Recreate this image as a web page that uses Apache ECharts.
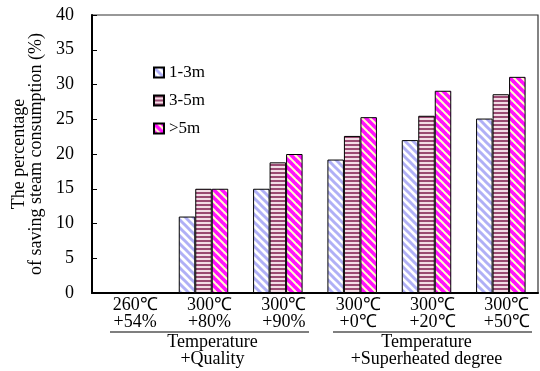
<!DOCTYPE html>
<html>
<head>
<meta charset="utf-8">
<script src="https://cdn.jsdelivr.net/npm/echarts@6/dist/echarts.min.js"></script>
<style>
html,body{margin:0;padding:0;background:#fff;}
#main{width:540px;height:371px;}
</style>
</head>
<body>
<div id="main"></div>
<script>
var categories = ['260\u2103\n+54%', '300\u2103\n+80%', '300\u2103\n+90%', '300\u2103\n+0\u2103', '300\u2103\n+20\u2103', '300\u2103\n+50\u2103'];
var seriesNames = ['1-3m', '3-5m', '>5m'];
var values13 = [0, 11, 15, 19.2, 22, 25.1];
var values35 = [0, 15, 18.8, 22.6, 25.5, 28.6];
var values5 = [0, 15, 20, 25.3, 29.1, 31.1];
var yTicks = [0, 5, 10, 15, 20, 25, 30, 35, 40];
var groupLabels = ['Temperature\n+Quality', 'Temperature\n+Superheated degree'];
var groupStart = [0, 3];
var groupEnd = [2, 5];

var FONT = '"Liberation Serif", "Times New Roman", serif';

function makePattern(kind) {
  var s = 8;
  var c = document.createElement('canvas');
  c.width = s; c.height = s;
  var g = c.getContext('2d');
  if (kind === 'blue') {
    g.fillStyle = '#ffffff'; g.fillRect(0, 0, s, s);
    g.strokeStyle = '#b0b0f6'; g.lineWidth = 3;
    for (var k = -1; k <= 1; k++) { g.beginPath(); g.moveTo(k * s - 2, -2); g.lineTo(k * s + s + 2, s + 2); g.stroke(); }
  } else if (kind === 'maroon') {
    c.height = 4; c.width = 4;
    g = c.getContext('2d');
    g.fillStyle = '#f3dde6'; g.fillRect(0, 0, 4, 4);
    g.fillStyle = '#9a4a72'; g.fillRect(0, 0, 4, 2);
  } else {
    g.fillStyle = '#ffffc8'; g.fillRect(0, 0, s, s);
    g.strokeStyle = '#ff10ff'; g.lineWidth = 3.6;
    for (var k2 = -1; k2 <= 1; k2++) { g.beginPath(); g.moveTo(k2 * s - 2, -2); g.lineTo(k2 * s + s + 2, s + 2); g.stroke(); }
  }
  return { image: c, repeat: 'repeat' };
}

var patterns = [makePattern('blue'), makePattern('maroon'), makePattern('magenta')];
var allValues = [values13, values35, values5];

var chart = echarts.init(document.getElementById('main'), null, { renderer: 'canvas' });

var series = seriesNames.map(function (n, i) {
  return {
    name: n,
    type: 'bar',
    data: allValues[i],
    barWidth: 16.5,
    barGap: '0%',
    itemStyle: { color: patterns[i], borderColor: '#000', borderWidth: 1 },
    emphasis: { disabled: true },
    animation: false
  };
});

chart.setOption({
  animation: false,
  grid: { left: 92, right: 2, top: 15, bottom: 78, show: true, borderColor: '#333', borderWidth: 1.2, backgroundColor: 'transparent' },
  legend: {
    orient: 'vertical', left: 148, top: 59, itemWidth: 10, itemHeight: 10, itemGap: 11,
    icon: 'rect',
    textStyle: { fontFamily: FONT, fontSize: 17, color: '#000' },
    data: seriesNames
  },
  xAxis: {
    type: 'category',
    data: categories,
    axisLine: { lineStyle: { color: '#000', width: 2 } },
    axisTick: { inside: true, length: 5, lineStyle: { color: '#000', width: 1 } },
    axisLabel: { fontFamily: FONT, fontSize: 18, color: '#000', margin: 4, lineHeight: 17, padding: [0, 0, 0, 12] }
  },
  yAxis: {
    type: 'value', min: 0, max: 40, interval: 5,
    name: 'The percentage\nof saving steam consumption (%)',
    nameLocation: 'middle', nameGap: 46,
    nameTextStyle: { fontFamily: FONT, fontSize: 18, color: '#000', lineHeight: 17 },
    axisLine: { show: true, lineStyle: { color: '#000', width: 2 } },
    axisTick: { show: true, inside: true, length: 5, lineStyle: { color: '#000' } },
    splitLine: { show: false },
    axisLabel: { fontFamily: FONT, fontSize: 18, color: '#000', margin: 18,
      formatter: function (v) { return yTicks.indexOf(v) >= 0 ? String(v) : ''; } }
  },
  series: series
});

var textShift = [3, -6];
var graphics = [];
for (var gi = 0; gi < groupLabels.length; gi++) {
  var a = chart.convertToPixel({ xAxisIndex: 0 }, groupStart[gi]);
  var b = chart.convertToPixel({ xAxisIndex: 0 }, groupEnd[gi]);
  var band = chart.convertToPixel({ xAxisIndex: 0 }, 1) - chart.convertToPixel({ xAxisIndex: 0 }, 0);
  var x0 = a - band / 2 + 18;
  var x1 = Math.min(b + band / 2 - 6, 537);
  var yLine = chart.convertToPixel({ yAxisIndex: 0 }, 0) + 39;
  graphics.push({ type: 'line', silent: true, shape: { x1: x0, y1: yLine, x2: x1, y2: yLine }, style: { stroke: '#000', lineWidth: 1.2 } });
  graphics.push({ type: 'text', silent: true, x: (x0 + x1) / 2 + textShift[gi], y: yLine + 2,
    style: { text: groupLabels[gi], fontFamily: FONT, fontSize: 18, fill: '#000', align: 'center', verticalAlign: 'top', lineHeight: 17 } });
}
chart.setOption({ graphic: graphics });
</script>
</body>
</html>
